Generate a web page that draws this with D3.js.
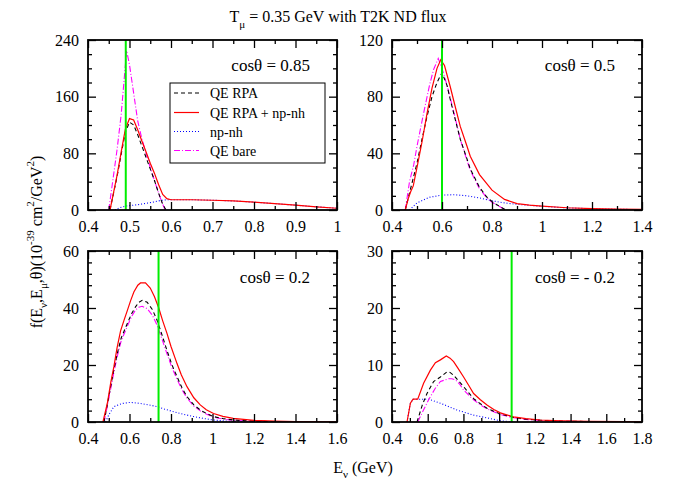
<!DOCTYPE html>
<html>
<head>
<meta charset="utf-8">
<script src="https://cdn.jsdelivr.net/npm/d3@7"></script>
<style>
  body { margin: 0; background: #fff; }
</style>
</head>
<body>
<svg id="chart" width="673" height="481"></svg>
<script>
// ---------------- DATA ----------------
const panelLabels = ["cos\u03b8 = 0.85", "cos\u03b8 = 0.5", "cos\u03b8 = 0.2", "cos\u03b8 = - 0.2"];
const xDomains = [[0.4, 1.0], [0.4, 1.4], [0.4, 1.6], [0.4, 1.8]];
const yDomains = [[0, 240], [0, 120], [0, 60], [0, 30]];
const xTicks = [[0.4, 0.5, 0.6, 0.7, 0.8, 0.9, 1], [0.4, 0.6, 0.8, 1, 1.2, 1.4], [0.4, 0.6, 0.8, 1, 1.2, 1.4, 1.6], [0.4, 0.6, 0.8, 1, 1.2, 1.4, 1.6, 1.8]];
const xMinorStep = [0.05, 0.1, 0.1, 0.1];
const yTicks = [[0, 80, 160, 240], [0, 40, 80, 120], [0, 20, 40, 60], [0, 10, 20, 30]];
const yMinorStep = [20, 10, 4, 2];
const greenLines = [0.491, 0.6, 0.74, 1.07];

const seriesNames = ["QE RPA", "QE RPA + np-nh", "np-nh", "QE bare"];

// panel 1 : cos = 0.85  ([E, value] pairs)
const p1_rpa = [[0.453,0],[0.47,47],[0.48,79],[0.49,110],[0.50,124],[0.51,120],[0.52,106],[0.53,90],[0.54,74],[0.55,58],[0.56,42],[0.57,24],[0.58,8],[0.588,0]];
const p1_tot = [[0.453,0],[0.47,49],[0.48,82],[0.49,114],[0.50,129],[0.51,127],[0.52,113],[0.53,97],[0.54,82],[0.55,66],[0.56,52],[0.57,36],[0.58,22],[0.59,16],[0.60,14.5],[0.65,14.5],[0.70,13.8],[0.75,12.8],[0.80,11],[0.85,9],[0.90,6.8],[0.95,4.5],[1.0,2.5]];
const p1_np  = [[0.465,0],[0.475,3],[0.49,5.5],[0.52,7.5],[0.54,9.5],[0.56,11.5],[0.575,13.5],[0.59,14.5],[0.65,14.5],[0.70,13.8],[0.75,12.8],[0.80,11],[0.85,9],[0.90,6.8],[0.95,4.5],[1.0,2.5]];
const p1_bare = [[0.45,0],[0.47,85],[0.48,135],[0.493,225],[0.50,205],[0.51,165],[0.52,125],[0.53,100],[0.54,80],[0.55,60],[0.56,42],[0.57,24],[0.58,8],[0.586,0]];

// panel 2 : cos = 0.5
const p2_rpa = [[0.453,0],[0.47,12],[0.50,33],[0.52,50],[0.54,66],[0.56,80],[0.58,90],[0.60,97],[0.62,88],[0.633,78],[0.65,66],[0.673,50],[0.70,36],[0.713,29],[0.75,16],[0.78,9],[0.80,6],[0.83,2.5],[0.855,0]];
const p2_tot = [[0.453,0],[0.465,8],[0.475,13],[0.485,17],[0.50,30],[0.52,48],[0.54,68],[0.56,86],[0.58,100],[0.595,106],[0.61,102],[0.633,87],[0.65,75],[0.673,59],[0.70,45],[0.713,38],[0.75,25],[0.80,14],[0.85,7.5],[0.90,4.5],[0.95,3.5],[1.0,2.8],[1.1,1.6],[1.2,1.0],[1.3,0.6],[1.4,0.4]];
const p2_np  = [[0.47,0],[0.50,5],[0.55,9],[0.60,10.5],[0.65,10.8],[0.70,10],[0.75,8.5],[0.80,6.5],[0.85,5],[0.90,4],[0.95,3.3],[1.0,2.6],[1.1,1.5],[1.2,0.9],[1.3,0.5],[1.4,0.3]];
const p2_bare = [[0.453,0],[0.47,20],[0.487,32],[0.50,45],[0.526,68],[0.55,88],[0.566,99],[0.585,107],[0.60,100],[0.62,88],[0.633,79],[0.65,67],[0.673,50],[0.70,35],[0.713,28],[0.75,15],[0.78,8.5],[0.80,5.5],[0.83,2.5],[0.855,0]];

// panel 3 : cos = 0.2
const p3_rpa = [[0.477,0],[0.493,6],[0.509,12.4],[0.525,18.5],[0.541,24],[0.56,29.5],[0.589,34.5],[0.61,38],[0.629,40.4],[0.645,42],[0.661,42.7],[0.685,42],[0.71,39.5],[0.733,35.7],[0.757,30.5],[0.781,25],[0.805,20],[0.829,15.9],[0.853,12],[0.877,8.9],[0.91,6],[0.941,4.2],[0.97,3],[1.005,1.9],[1.05,1.2],[1.1,0.7],[1.2,0.3],[1.3,0.1],[1.4,0.05]];
const p3_tot = [[0.472,0],[0.493,6.5],[0.51,14],[0.525,19.5],[0.54,26],[0.557,32],[0.575,36],[0.589,39],[0.605,42.5],[0.621,45.6],[0.64,48],[0.653,48.8],[0.677,48.8],[0.70,47],[0.72,44],[0.741,40],[0.76,35.5],[0.781,31],[0.80,26.5],[0.829,20.5],[0.85,16.5],[0.877,12.4],[0.91,8.5],[0.941,6],[0.97,4.3],[1.005,3],[1.05,2],[1.1,1.3],[1.2,0.6],[1.3,0.3],[1.4,0.15],[1.6,0.05]];
const p3_np  = [[0.485,0],[0.50,2.5],[0.525,5.4],[0.565,6.5],[0.605,6.9],[0.653,6.5],[0.70,5.9],[0.733,5.4],[0.77,4.5],[0.813,3.6],[0.86,2.7],[0.909,1.9],[0.96,1.2],[1.005,0.7],[1.05,0.4],[1.1,0.15],[1.2,0.05]];
const p3_bare = [[0.477,0],[0.493,5.5],[0.509,11.5],[0.525,17.5],[0.541,23],[0.56,28.5],[0.589,33.5],[0.61,37],[0.629,39.3],[0.645,40.3],[0.661,40.6],[0.685,39.8],[0.71,37.5],[0.733,34],[0.757,29],[0.781,23.8],[0.805,19],[0.829,15],[0.853,11.3],[0.877,8.4],[0.91,5.6],[0.941,3.9],[0.97,2.8],[1.005,1.7],[1.05,1.0],[1.1,0.6],[1.2,0.25],[1.3,0.1],[1.4,0.05]];

// panel 4 : cos = -0.2
const p4_rpa = [[0.54,0],[0.57,3],[0.596,5.0],[0.633,7.1],[0.671,7.9],[0.708,8.8],[0.725,8.7],[0.745,8.2],[0.77,7.3],[0.801,6.2],[0.83,5.1],[0.857,4.1],[0.895,3.2],[0.932,2.4],[0.97,1.9],[1.007,1.4],[1.081,0.8],[1.15,0.5],[1.23,0.3],[1.35,0.15],[1.5,0.08],[1.7,0.03]];
const p4_tot = [[0.484,0],[0.503,3.3],[0.518,4.0],[0.544,4.0],[0.577,6.8],[0.615,9.1],[0.643,10.4],[0.671,10.9],[0.704,11.6],[0.725,11.2],[0.745,10.6],[0.77,9.4],[0.801,7.9],[0.83,6.4],[0.857,5.0],[0.895,3.9],[0.932,3.0],[0.97,2.2],[1.007,1.6],[1.081,0.9],[1.15,0.6],[1.23,0.35],[1.35,0.2],[1.5,0.1],[1.7,0.05],[1.8,0.03]];
const p4_np  = [[0.484,0],[0.503,3.3],[0.518,4.0],[0.605,4.0],[0.671,3.3],[0.764,2.1],[0.857,1.2],[0.951,0.6],[1.007,0.2],[1.081,0.02]];
const p4_bare = [[0.544,0],[0.575,2],[0.605,3.9],[0.64,5.8],[0.671,7.1],[0.717,7.6],[0.735,7.6],[0.755,7.4],[0.78,6.6],[0.801,5.6],[0.83,4.7],[0.857,3.9],[0.895,3.0],[0.932,2.3],[0.97,1.8],[1.007,1.3],[1.081,0.75],[1.15,0.45],[1.23,0.28],[1.35,0.13],[1.5,0.07],[1.7,0.03]];

const panelData = [
  [p1_rpa, p1_tot, p1_np, p1_bare],
  [p2_rpa, p2_tot, p2_np, p2_bare],
  [p3_rpa, p3_tot, p3_np, p3_bare],
  [p4_rpa, p4_tot, p4_np, p4_bare]
];

// ---------------- STYLE / LAYOUT ----------------
const FONT = "'Liberation Serif', 'Times New Roman', Tinos, 'Liberation Sans', Arimo, Arial, sans-serif";
const styles = [
  { color: "#000000", dash: "4,3", width: 1.1 },
  { color: "#ff0000", dash: null, width: 1.2 },
  { color: "#0000ff", dash: "1,2", width: 1.1 },
  { color: "#ff00ff", dash: "6,2,1,2", width: 1.1 }
];
const boxes = [
  { x0: 88, x1: 337, y0: 40, y1: 210 },
  { x0: 392, x1: 642, y0: 40, y1: 210 },
  { x0: 88, x1: 337, y0: 251, y1: 422 },
  { x0: 392, x1: 642, y0: 251, y1: 422 }
];

const svg = d3.select("#chart").attr("font-family", FONT);

function minorValues(domain, step, majors) {
  const out = [];
  const n = Math.round((domain[1] - domain[0]) / step);
  for (let i = 0; i <= n; i++) {
    const v = +(domain[0] + i * step).toFixed(6);
    if (!majors.some(m => Math.abs(m - v) < 1e-9)) out.push(v);
  }
  return out;
}

boxes.forEach((b, i) => {
  const x = d3.scaleLinear().domain(xDomains[i]).range([b.x0, b.x1]);
  const y = d3.scaleLinear().domain(yDomains[i]).range([b.y1, b.y0]);
  const g = svg.append("g");

  const clipId = "clip" + i;
  svg.append("clipPath").attr("id", clipId).append("rect")
    .attr("x", b.x0).attr("y", b.y0).attr("width", b.x1 - b.x0).attr("height", b.y1 - b.y0);

  const plot = g.append("g").attr("clip-path", `url(#${clipId})`);

  const line = d3.line().x(d => x(d[0])).y(d => y(d[1]));
  [2, 3, 0, 1].forEach(k => {
    plot.append("path")
      .attr("d", line(panelData[i][k]))
      .attr("fill", "none")
      .attr("stroke", styles[k].color)
      .attr("stroke-width", styles[k].width)
      .attr("stroke-dasharray", styles[k].dash);
  });

  plot.append("line")
    .attr("x1", x(greenLines[i])).attr("x2", x(greenLines[i]))
    .attr("y1", y(yDomains[i][0])).attr("y2", y(yDomains[i][1]))
    .attr("stroke", "#00ee00").attr("stroke-width", 2);

  const xMin = minorValues(xDomains[i], xMinorStep[i], xTicks[i]);
  const yMin = minorValues(yDomains[i], yMinorStep[i], yTicks[i]);
  const fmt = d => String(+d.toFixed(2));

  g.append("g").attr("transform", `translate(0,${b.y1})`)
    .call(d3.axisBottom(x).tickValues(xTicks[i]).tickSize(-8).tickSizeOuter(0).tickPadding(11).tickFormat(fmt));
  g.append("g").attr("transform", `translate(0,${b.y1})`)
    .call(d3.axisBottom(x).tickValues(xMin).tickSize(-4).tickSizeOuter(0).tickFormat(""));
  g.append("g").attr("transform", `translate(0,${b.y0})`)
    .call(d3.axisTop(x).tickValues(xTicks[i]).tickSize(-8).tickSizeOuter(0).tickFormat(""));
  g.append("g").attr("transform", `translate(0,${b.y0})`)
    .call(d3.axisTop(x).tickValues(xMin).tickSize(-4).tickSizeOuter(0).tickFormat(""));
  g.append("g").attr("transform", `translate(${b.x0},0)`)
    .call(d3.axisLeft(y).tickValues(yTicks[i]).tickSize(-8).tickSizeOuter(0).tickPadding(9).tickFormat(d3.format("d")));
  g.append("g").attr("transform", `translate(${b.x0},0)`)
    .call(d3.axisLeft(y).tickValues(yMin).tickSize(-4).tickSizeOuter(0).tickFormat(""));
  g.append("g").attr("transform", `translate(${b.x1},0)`)
    .call(d3.axisRight(y).tickValues(yTicks[i]).tickSize(-8).tickSizeOuter(0).tickFormat(""));
  g.append("g").attr("transform", `translate(${b.x1},0)`)
    .call(d3.axisRight(y).tickValues(yMin).tickSize(-4).tickSizeOuter(0).tickFormat(""));

  g.selectAll(".domain").remove();
  g.selectAll("g").attr("font-family", FONT);
  g.selectAll(".tick line").attr("stroke", "#000").attr("stroke-width", 1.3);
  g.selectAll(".tick text").attr("font-family", FONT).attr("font-size", 16).attr("fill", "#000");

  g.append("rect")
    .attr("x", b.x0).attr("y", b.y0).attr("width", b.x1 - b.x0).attr("height", b.y1 - b.y0)
    .attr("fill", "none").attr("stroke", "#000").attr("stroke-width", 1.8);

  g.append("text")
    .attr("x", b.x1 - 27).attr("y", b.y0 + (i < 2 ? 31 : 32))
    .attr("text-anchor", "end").attr("font-size", 17).attr("font-family", FONT)
    .text(panelLabels[i]);

  if (i === 0) {
    const lg = g.append("g");
    lg.append("rect").attr("x", 170).attr("y", 83).attr("width", 155).attr("height", 80)
      .attr("fill", "#fff").attr("stroke", "#000").attr("stroke-width", 1);
    const rowsY = [93, 112.5, 131.5, 150.5];
    seriesNames.forEach((name, k) => {
      lg.append("line").attr("x1", 174).attr("x2", 199).attr("y1", rowsY[k]).attr("y2", rowsY[k])
        .attr("stroke", styles[k].color).attr("stroke-width", styles[k].width)
        .attr("stroke-dasharray", styles[k].dash);
      lg.append("text").attr("x", 210).attr("y", rowsY[k] + 5).attr("font-size", 14)
        .attr("font-family", FONT).text(name);
    });
  }
});

const title = svg.append("text").attr("x", 338).attr("y", 22).attr("text-anchor", "middle")
  .attr("font-size", 16).attr("font-family", FONT);
title.append("tspan").text("T");
title.append("tspan").attr("dy", 6).attr("font-size", 11).text("\u03bc");
title.append("tspan").attr("dy", -6).text(" = 0.35 GeV with T2K ND flux");

const xl = svg.append("text").attr("x", 363).attr("y", 473).attr("text-anchor", "middle")
  .attr("font-size", 16).attr("font-family", FONT);
xl.append("tspan").text("E");
xl.append("tspan").attr("dy", 5).attr("font-size", 11).text("\u03bd");
xl.append("tspan").attr("dy", -5).text(" (GeV)");

const yl = svg.append("text").attr("transform", "translate(42,242) rotate(-90)").attr("text-anchor", "middle")
  .attr("font-size", 16).attr("font-family", FONT);
yl.append("tspan").text("f(E");
yl.append("tspan").attr("dy", 5).attr("font-size", 11).text("\u03bd");
yl.append("tspan").attr("dy", -5).text(",E");
yl.append("tspan").attr("dy", 5).attr("font-size", 11).text("\u03bc");
yl.append("tspan").attr("dy", -5).text(",\u03b8)(10");
yl.append("tspan").attr("dy", -8).attr("font-size", 11).text("-39");
yl.append("tspan").attr("dy", 8).text(" cm");
yl.append("tspan").attr("dy", -8).attr("font-size", 11).text("2");
yl.append("tspan").attr("dy", 8).text("/GeV");
yl.append("tspan").attr("dy", -8).attr("font-size", 11).text("2");
yl.append("tspan").attr("dy", 8).text(")");
</script>
</body>
</html>
